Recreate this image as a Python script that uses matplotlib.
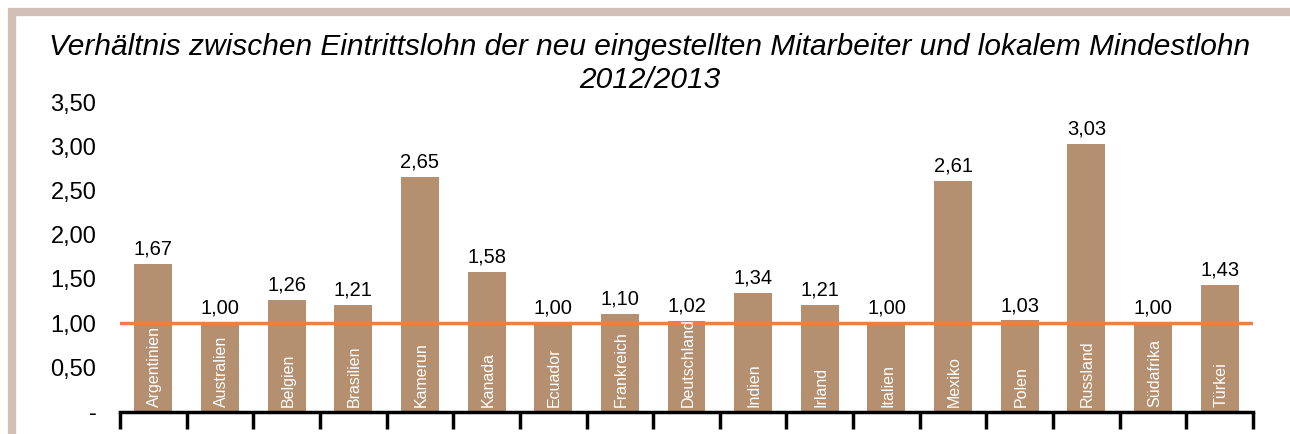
import matplotlib.pyplot as plt
import numpy as np
from matplotlib.patches import Rectangle

plt.rcParams['font.family'] = ['Liberation Sans', 'DejaVu Sans']

# data
laender = ["Argentinien", "Australien", "Belgien", "Brasilien", "Kamerun", "Kanada",
           "Ecuador", "Frankreich", "Deutschland", "Indien", "Irland", "Italien",
           "Mexiko", "Polen", "Russland", "Südafrika", "Türkei"]
verhaeltnis = [1.67, 1.00, 1.26, 1.21, 2.65, 1.58, 1.00, 1.10, 1.02, 1.34,
               1.21, 1.00, 2.61, 1.03, 3.03, 1.00, 1.43]
y_ticks = [0, 0.5, 1.0, 1.5, 2.0, 2.5, 3.0, 3.5]
y_ticklabels = ["-", "0,50", "1,00", "1,50", "2,00", "2,50", "3,00", "3,50"]
mindestlohn = 1.0

bar_color = "#b48f70"
line_color = "#ea8046"
frame_color = "#d1beb5"

fig = plt.figure(figsize=(12.9, 4.34), dpi=100)
W, H = 1290, 434

# frame around the chart
fig.patches.append(Rectangle((12 / W, -0.1), (1290 - 8) / W, 1 - 12 / H + 0.1,
                             transform=fig.transFigure, fill=False,
                             edgecolor=frame_color, linewidth=6, zorder=0))

ax = fig.add_axes([120 / W, 1 - 411.5 / H, (1253 - 120) / W, (411.5 - 102) / H])

x = np.arange(len(laender))
ax.bar(x, verhaeltnis, width=0.57, color=bar_color, zorder=2)
ax.axhline(mindestlohn, color=line_color, linewidth=2.5, zorder=3)

for xi, v, name in zip(x, verhaeltnis, laender):
    ax.text(xi, v + 0.06, f"{v:.2f}".replace(".", ","), ha="center", va="bottom",
            fontsize=14.5, color="black")
    ax.text(xi + 0.02, 0.05, name, rotation=90, ha="center", va="bottom",
            fontsize=11.5, color="white", zorder=4)

ax.set_xlim(-0.5, len(laender) - 0.5)
ax.set_ylim(0, 3.5)
ax.set_yticks(y_ticks)
ax.set_yticklabels(y_ticklabels, fontsize=17)
ax.tick_params(axis="y", length=0, pad=17)

ax.set_xticks(np.arange(len(laender) + 1) - 0.5)
ax.set_xticklabels([])
ax.tick_params(axis="x", direction="out", length=12, width=2.5, color="black")

for side in ["top", "right", "left"]:
    ax.spines[side].set_visible(False)
ax.spines["bottom"].set_linewidth(2.5)

fig.text(650 / W, 1 - 47 / H,
         "Verhältnis zwischen Eintrittslohn der neu eingestellten Mitarbeiter und lokalem Mindestlohn",
         ha="center", va="center", fontsize=21.5, style="italic")
fig.text(650 / W, 1 - 80 / H, "2012/2013", ha="center", va="center",
         fontsize=21.5, style="italic")

fig.savefig("out.png", dpi=100)
